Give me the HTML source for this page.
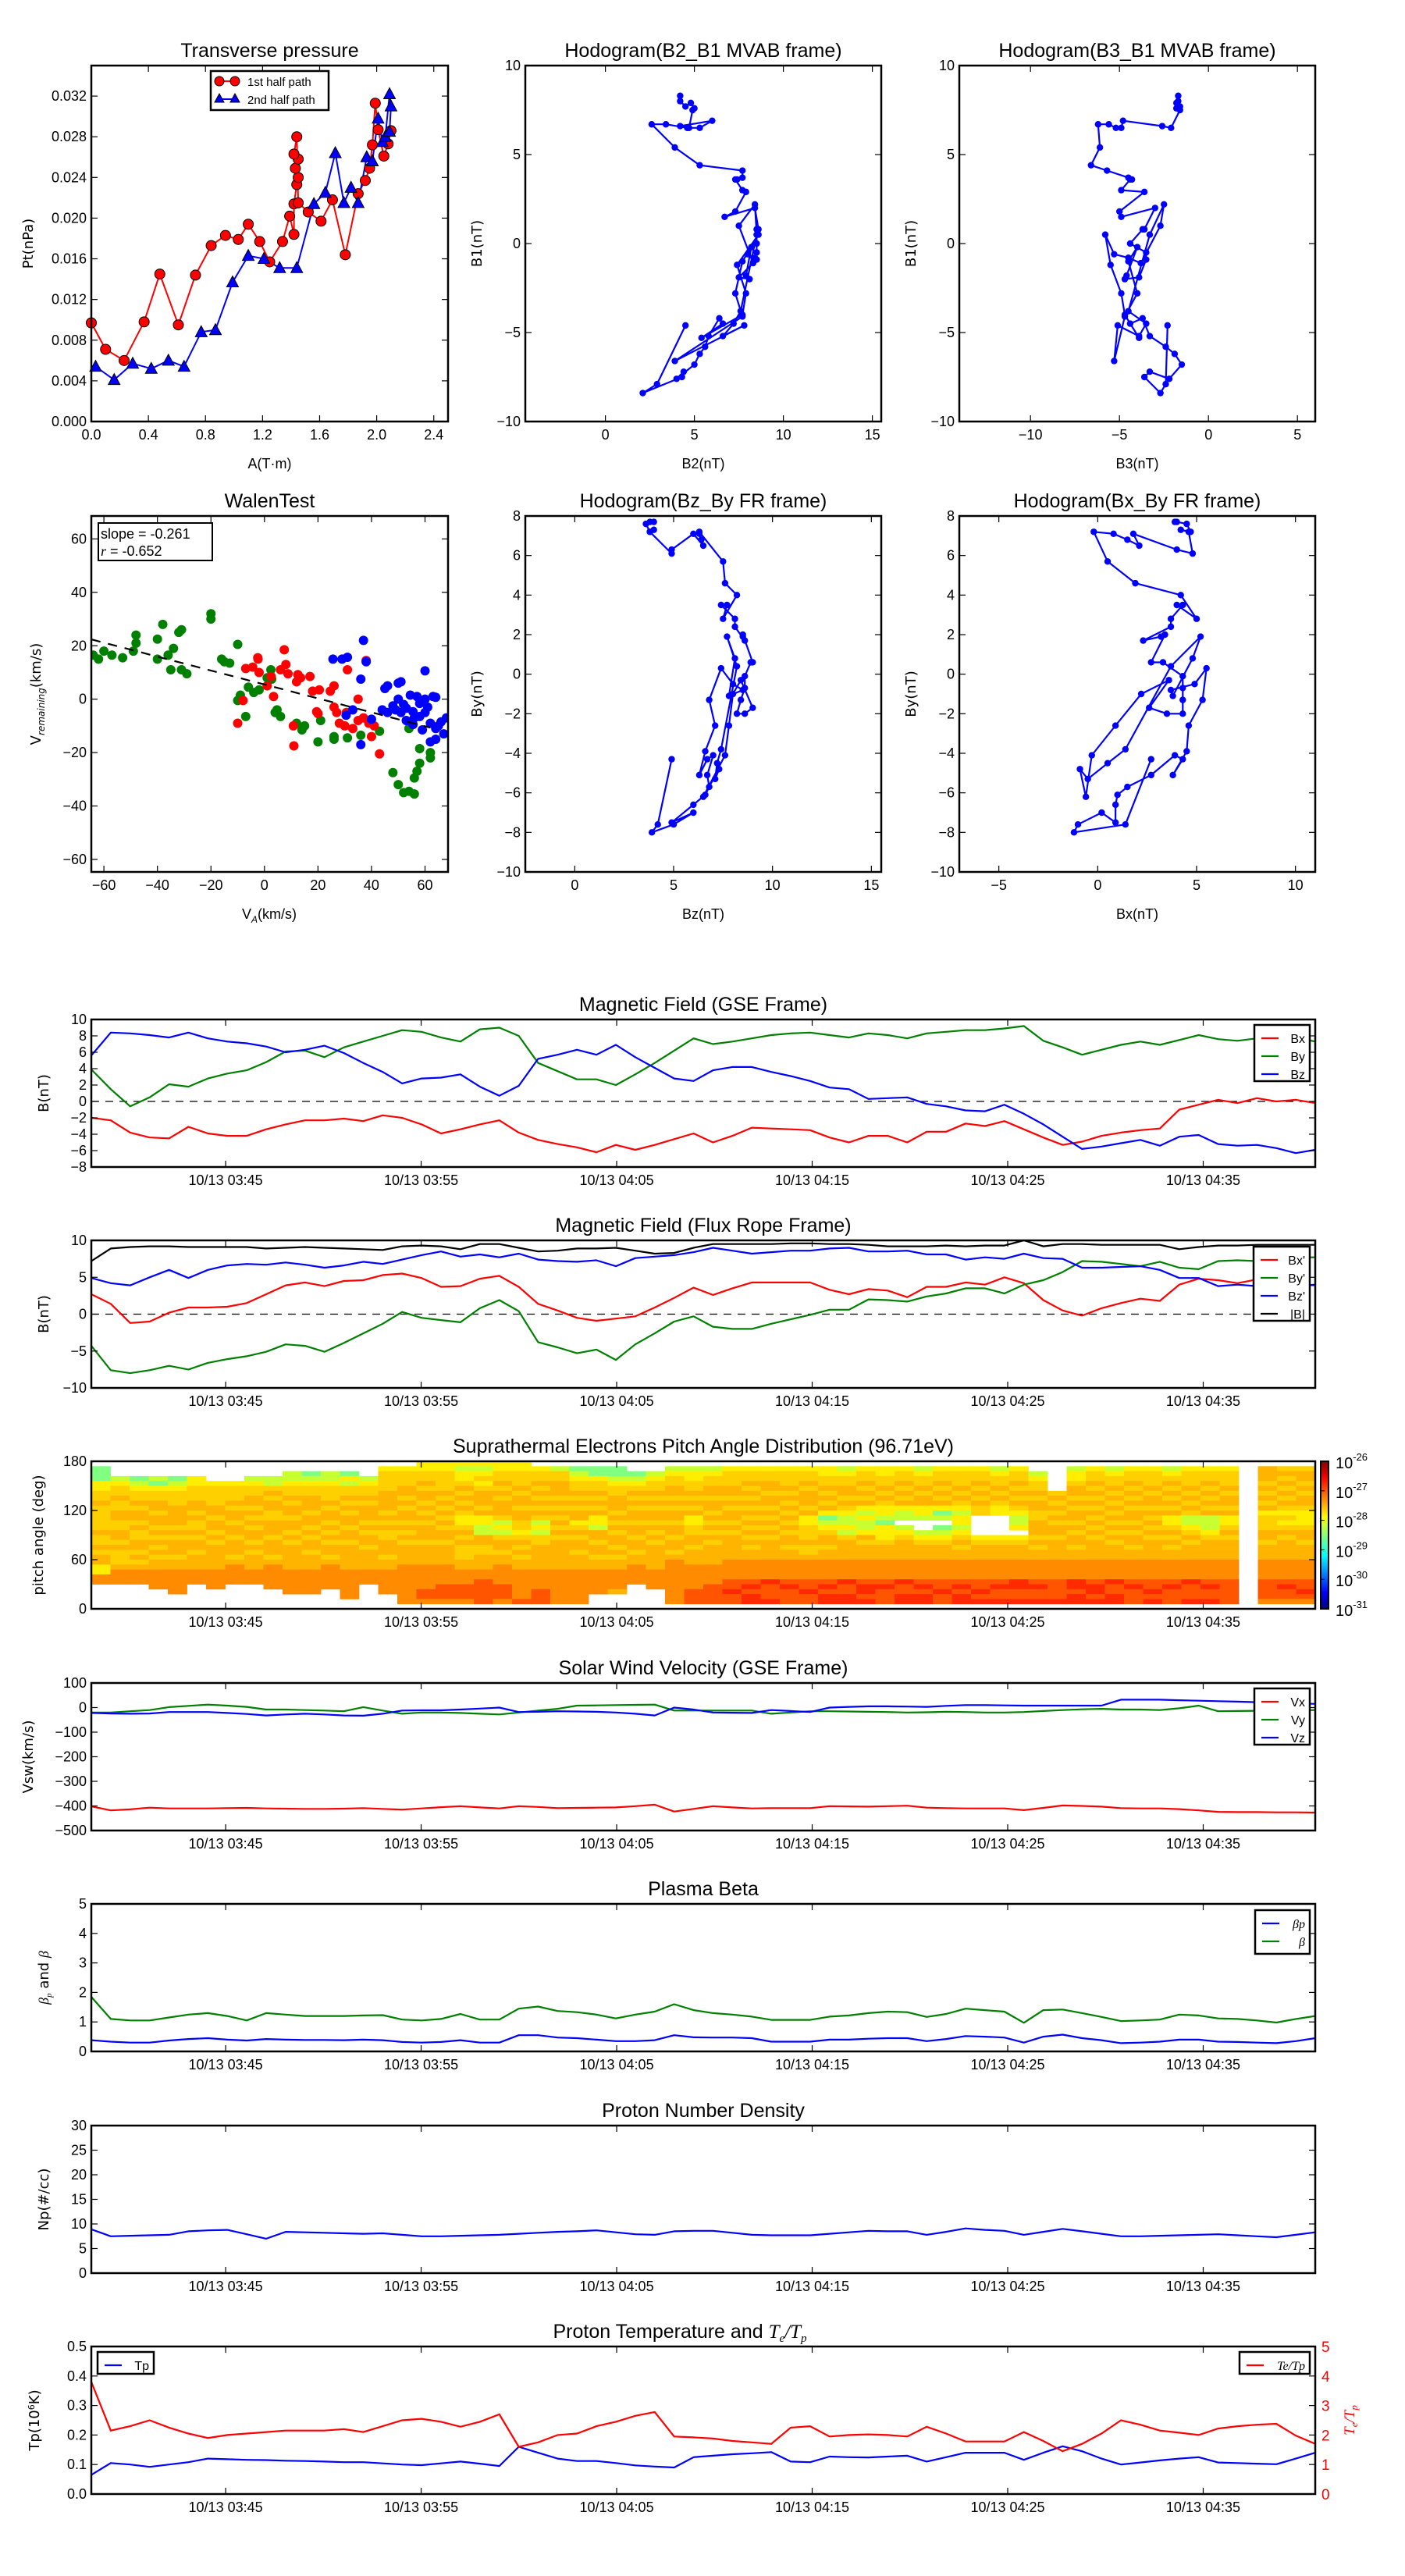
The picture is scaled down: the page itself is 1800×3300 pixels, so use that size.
<!DOCTYPE html>
<html><head><meta charset="utf-8"><title>Flux rope analysis</title>
<style>
html,body{margin:0;padding:0;background:#fff;}
svg{display:block;font-family:"Liberation Sans","DejaVu Sans",sans-serif;}
</style></head>
<body>
<svg id="root" width="1800" height="3300" viewBox="0 0 1800 3300" xmlns="http://www.w3.org/2000/svg">
<defs>
<linearGradient id="jet" x1="0" y1="1" x2="0" y2="0">
<stop offset="0" stop-color="#00007f"/><stop offset="0.11" stop-color="#0000ff"/><stop offset="0.36" stop-color="#00ffff"/><stop offset="0.62" stop-color="#ffff00"/><stop offset="0.89" stop-color="#ff0000"/><stop offset="1" stop-color="#7f0000"/>
</linearGradient>
</defs>
</svg>
<script>
// ---------- data ----------
const gseBx=[-2.0,-2.3,-3.8,-4.4,-4.5,-3.1,-3.9,-4.2,-4.2,-3.4,-2.8,-2.3,-2.3,-2.1,-2.4,-1.7,-2.0,-2.8,-3.9,-3.4,-2.8,-2.3,-3.8,-4.7,-5.2,-5.6,-6.2,-5.3,-5.9,-5.3,-4.6,-3.9,-5.0,-4.2,-3.2,-3.3,-3.4,-3.5,-4.4,-5.0,-4.2,-4.2,-5.0,-3.7,-3.7,-2.7,-3.0,-2.4,-3.4,-4.4,-5.3,-4.9,-4.2,-3.8,-3.5,-3.3,-1.0,-0.4,0.2,-0.2,0.4,0.0,0.2,-0.2];
const gseBy=[3.9,1.5,-0.6,0.5,2.1,1.8,2.8,3.4,3.8,4.8,6.1,6.2,5.4,6.6,7.3,8.0,8.7,8.5,7.8,7.3,8.8,9.0,8.0,4.7,3.7,2.7,2.7,2.0,3.3,4.7,6.2,7.7,7.0,7.3,7.7,8.1,8.3,8.4,8.1,7.8,8.3,8.1,7.7,8.3,8.5,8.7,8.7,8.9,9.2,7.4,6.6,5.7,6.3,6.9,7.3,6.9,7.5,8.1,7.6,7.4,7.7,8.0,7.8,7.3];
const gseBz=[5.6,8.4,8.3,8.1,7.8,8.4,7.7,7.3,7.1,6.7,6.0,6.3,6.8,5.9,4.7,3.6,2.2,2.8,2.9,3.3,1.8,0.7,1.9,5.2,5.7,6.3,5.7,6.9,5.4,4.1,2.8,2.5,3.8,4.2,4.2,3.6,3.1,2.5,1.7,1.5,0.3,0.4,0.5,-0.3,-0.6,-1.1,-1.2,-0.4,-1.5,-2.8,-4.3,-5.8,-5.5,-5.1,-4.7,-5.4,-4.3,-4.1,-5.2,-5.4,-5.3,-5.7,-6.3,-5.9];
const frBx=[2.7,1.4,-1.2,-1.0,0.2,0.9,0.9,1.0,1.5,2.7,3.9,4.3,3.8,4.5,4.6,5.3,5.5,4.9,3.7,3.8,4.8,5.2,3.7,1.4,0.5,-0.5,-0.9,-0.6,-0.3,0.9,2.2,3.6,2.6,3.5,4.3,4.3,4.3,4.3,3.3,2.7,3.4,3.2,2.3,3.7,3.7,4.3,4.0,5.0,4.2,1.9,0.5,-0.2,0.8,1.5,2.1,1.8,4.0,4.8,4.6,4.2,4.7,4.5,4.0,3.9];
const frBy=[-4.3,-7.6,-8.0,-7.6,-7.0,-7.5,-6.6,-6.1,-5.7,-5.1,-4.1,-4.3,-5.1,-3.9,-2.6,-1.3,0.3,-0.5,-0.8,-1.1,0.8,1.9,0.4,-3.8,-4.5,-5.3,-4.8,-6.2,-4.1,-2.6,-1.0,-0.3,-1.7,-2.0,-2.0,-1.3,-0.7,-0.1,0.6,0.6,2.0,1.9,1.7,2.4,2.8,3.5,3.5,2.8,4.0,4.6,5.7,7.2,7.1,6.8,6.5,7.1,6.3,6.1,7.2,7.3,7.2,7.6,7.7,7.7];
const frBz=[4.9,4.2,3.9,5.0,6.0,4.9,6.0,6.6,6.8,6.7,7.0,6.7,6.3,6.6,7.1,6.8,7.4,8.0,8.5,7.8,8.1,7.7,8.2,7.4,7.2,7.1,7.3,6.5,7.6,7.8,8.0,8.4,9.0,8.6,8.2,8.4,8.6,8.6,8.9,9.0,8.5,8.5,8.6,8.1,8.1,7.4,7.7,7.5,8.2,7.6,7.5,6.3,6.3,6.4,6.5,6.0,4.9,4.9,3.8,4.0,3.8,3.6,3.8,4.0];
const frBmag=[7.2,8.9,9.1,9.2,9.2,9.1,9.1,9.1,9.1,8.9,9.0,9.1,9.0,8.9,8.8,8.7,9.2,9.3,9.2,8.8,9.5,9.5,9.0,8.5,8.6,8.9,8.9,9.0,8.6,8.2,8.3,9.0,9.5,9.5,9.5,9.5,9.6,9.6,9.5,9.5,9.4,9.2,9.2,9.2,9.3,9.2,9.3,9.3,10.0,9.2,9.5,9.5,9.4,9.4,9.4,9.4,8.8,9.1,9.3,9.3,9.4,9.4,9.4,9.4];
const vx=[-402,-418,-414,-407,-410,-410,-410,-409,-408,-410,-411,-412,-412,-411,-409,-412,-415,-410,-405,-401,-406,-410,-401,-404,-409,-408,-407,-406,-401,-395,-423,-412,-401,-406,-410,-409,-409,-409,-401,-402,-403,-401,-399,-407,-409,-410,-410,-410,-417,-408,-398,-400,-403,-409,-410,-410,-413,-418,-424,-425,-425,-426,-426,-427];
const vy=[-20,-20,-15,-10,2,7,12,8,3,-8,-8,-10,-12,-15,2,-12,-25,-20,-20,-22,-25,-28,-20,-12,-5,8,9,10,11,12,-12,-12,-12,-12,-12,-25,-20,-15,-15,-16,-17,-18,-20,-19,-17,-18,-20,-20,-18,-14,-10,-7,-5,-8,-8,-10,-3,8,-15,-14,-13,-12,-11,-10];
const vz=[-22,-24,-25,-24,-18,-18,-18,-22,-26,-32,-28,-25,-28,-32,-33,-25,-12,-11,-11,-8,-4,0,-18,-17,-15,-16,-17,-20,-25,-32,0,-8,-20,-21,-22,-10,-14,-18,0,3,5,5,4,3,7,10,10,9,8,8,8,8,8,32,32,32,30,28,26,24,22,20,18,15];
const betaP=[0.38,0.33,0.3,0.3,0.37,0.42,0.45,0.4,0.37,0.42,0.4,0.39,0.39,0.38,0.4,0.38,0.32,0.3,0.32,0.38,0.3,0.3,0.55,0.55,0.47,0.45,0.4,0.35,0.35,0.38,0.55,0.48,0.47,0.47,0.45,0.33,0.33,0.33,0.4,0.4,0.43,0.45,0.45,0.35,0.42,0.52,0.5,0.47,0.3,0.5,0.57,0.45,0.38,0.28,0.3,0.33,0.4,0.4,0.33,0.32,0.3,0.28,0.35,0.45];
const betaT=[1.85,1.1,1.05,1.05,1.15,1.25,1.3,1.2,1.05,1.3,1.25,1.2,1.2,1.2,1.22,1.23,1.08,1.05,1.1,1.27,1.08,1.08,1.45,1.52,1.37,1.33,1.25,1.12,1.25,1.35,1.6,1.4,1.3,1.25,1.18,1.07,1.07,1.07,1.18,1.22,1.3,1.35,1.33,1.17,1.27,1.45,1.4,1.35,0.97,1.4,1.42,1.3,1.17,1.03,1.05,1.08,1.25,1.22,1.12,1.1,1.05,0.98,1.1,1.2];
const np=[8.9,7.5,7.6,7.7,7.8,8.5,8.7,8.8,7.9,7.0,8.4,8.3,8.2,8.1,8.0,8.1,7.8,7.5,7.5,7.6,7.7,7.8,8.0,8.2,8.4,8.5,8.7,8.3,7.9,7.8,8.5,8.6,8.6,8.2,7.8,7.7,7.7,7.7,8.0,8.3,8.6,8.5,8.5,7.8,8.4,9.1,8.8,8.6,7.8,8.4,9.0,8.5,8.0,7.5,7.5,7.6,7.7,7.8,7.9,7.7,7.5,7.3,7.8,8.3];
const tp=[0.065,0.105,0.1,0.092,0.1,0.108,0.12,0.118,0.116,0.115,0.113,0.112,0.11,0.108,0.108,0.104,0.1,0.098,0.104,0.11,0.103,0.095,0.16,0.14,0.12,0.112,0.112,0.105,0.097,0.093,0.09,0.125,0.13,0.135,0.138,0.142,0.11,0.108,0.127,0.125,0.124,0.127,0.13,0.11,0.125,0.14,0.14,0.14,0.116,0.14,0.162,0.145,0.12,0.1,0.107,0.114,0.12,0.125,0.107,0.105,0.103,0.101,0.12,0.14];
const teTp=[3.8,2.15,2.3,2.5,2.25,2.05,1.9,2.0,2.05,2.1,2.15,2.15,2.15,2.2,2.1,2.3,2.5,2.55,2.45,2.28,2.45,2.7,1.6,1.75,2.0,2.05,2.3,2.45,2.65,2.78,1.95,1.92,1.88,1.8,1.75,1.7,2.25,2.3,1.95,2.0,2.02,2.0,1.95,2.28,2.05,1.78,1.78,1.78,2.1,1.8,1.45,1.7,2.05,2.5,2.35,2.15,2.08,2.0,2.22,2.3,2.35,2.38,1.98,1.7];
const mvaB1=[-4.6,-7.9,-8.4,-7.5,-7.2,-7.6,-6.8,-6.2,-5.8,-5.2,-4.2,-4.5,-5.3,-4.0,-2.8,-1.2,0.5,-0.6,-0.8,-1.1,1.0,2.2,0.5,-3.8,-4.5,-5.2,-4.6,-6.6,-4.1,-2.8,-1.0,-0.2,-1.8,-2.0,-1.9,-0.9,-0.5,0.0,0.8,0.8,2.0,1.5,1.8,2.9,3.0,3.6,3.6,3.7,4.1,4.4,5.4,6.7,6.7,6.5,6.5,6.9,6.6,6.5,7.5,7.6,7.9,7.7,8.0,8.3];
const mvaB2=[4.5,2.9,2.1,4.3,4.4,4.0,5.0,5.3,5.6,5.8,6.4,6.6,5.4,7.7,7.9,7.4,8.6,8.0,8.4,8.3,7.5,8.4,8.5,7.6,7.2,6.6,7.8,3.9,7.7,7.3,7.7,8.2,7.9,8.1,7.5,8.5,8.5,8.5,8.5,8.6,8.4,6.7,7.3,7.9,7.7,7.3,7.4,7.7,7.7,5.3,3.9,2.6,3.4,4.6,5.3,6.0,4.2,4.7,4.9,5.0,4.8,4.5,4.2,4.2];
const mvaB3=[-2.3,-2.4,-2.7,-3.6,-3.3,-2.2,-1.5,-1.9,-2.4,-3.3,-3.7,-4.4,-3.9,-4.7,-4.9,-5.5,-5.8,-5.3,-4.5,-3.8,-2.7,-2.5,-3.3,-4.5,-3.5,-3.9,-5.1,-5.3,-4.7,-4.0,-4.5,-4.0,-4.6,-4.7,-3.9,-3.5,-3.5,-4.4,-3.7,-3.6,-3.0,-4.9,-5.0,-3.6,-4.9,-4.4,-4.3,-4.5,-5.7,-6.6,-6.1,-6.2,-5.6,-5.2,-4.9,-4.8,-2.6,-2.1,-1.6,-1.8,-1.8,-1.6,-1.7,-1.7];
const ptA1=[0.0,0.10,0.23,0.37,0.48,0.61,0.73,0.84,0.94,1.03,1.10,1.18,1.25,1.34,1.39,1.42,1.42,1.44,1.45,1.43,1.45,1.42,1.44,1.45,1.52,1.61,1.69,1.78,1.87,1.92,1.95,1.97,1.99,2.01,2.05,2.08,2.10];
const ptP1=[0.0097,0.0071,0.0060,0.0098,0.0145,0.0095,0.0144,0.0173,0.0183,0.0179,0.0194,0.0177,0.0157,0.0177,0.0202,0.0184,0.0214,0.0233,0.0240,0.0249,0.0258,0.0263,0.0280,0.0215,0.0206,0.0197,0.0218,0.0164,0.0224,0.0237,0.0249,0.0272,0.0313,0.0287,0.0261,0.0273,0.0286];
const ptA2=[0.03,0.16,0.29,0.42,0.54,0.65,0.77,0.87,0.99,1.10,1.21,1.32,1.44,1.56,1.64,1.71,1.77,1.82,1.87,1.93,1.97,2.01,2.04,2.06,2.09,2.10,2.09];
const ptP2=[0.0054,0.0041,0.0057,0.0052,0.0060,0.0054,0.0088,0.0090,0.0137,0.0163,0.0160,0.0151,0.0151,0.0214,0.0225,0.0264,0.0215,0.0230,0.0215,0.0260,0.0256,0.0298,0.0275,0.0280,0.0322,0.0310,0.0285];
const walenGreenX=[-64,-62,-60,-57,-53,-49,-48,-48,-40,-38,-40,-36,-34,-35,-32,-31,-31,-29,-20,-20,-10,-16,-15,-13,-10,-9,-7,-6,-4,-2,1,2.4,2.7,4.7,6,4,15,12,14,21,20,26,26,31,36,43,48,50,52,54,56,56,57,58,58,62,62,54];
const walenGreenY=[16.5,15,18,16.5,15.5,18,21,24,22.5,28,15,16.5,19,11,25,26,11,9.5,32,30,20.5,15,14,13.5,-0.5,1.5,-6.5,4.5,2.5,3.5,8,11,7.5,-4,-6.5,-5,-10,-9,-11.5,-8,-16,-14,-15,-14.5,-13.5,-12,-27.5,-32,-35,-34.5,-35.5,-29.5,-27,-24,-18.5,-22,-20,-11];
const walenRedX=[-10,-8,-7,-4.4,-2.4,1,3.4,6,7.4,8,8.8,10.8,12,12.5,13.5,17,18,19.5,20,20.5,24.6,26,26,28,30,30.6,33,35,37,38,39,40,41,11,-2,2.5,-2.5,27,31,35,43];
const walenRedY=[-9,-0.5,11.5,12,15,5,1,11,18.5,13,9.5,-10,6.5,9.2,8,8.5,3,-4.7,-5.4,3.5,3,5,-3,-9,-10,-5,-11,0,-7,14.5,-9,-14,-10,-17.5,10,8.5,15.5,-5,11,-8,-20.5];
const walenBlueX=[25.6,29,31,37,38,36,36,33,40,45,46,51,50,60,48,49,51,53,55.5,57,58,60,64,59,62,64,66,67,62,64,55.5,54.5,50,52,56,58,60,46,44,53,68,61,30.5,65,63];
const walenBlueY=[15,15,15.7,22,14,7.5,-17,-4,-7.5,4,5,6.5,6,10.6,-2.5,-4,-5,-3.4,-4.7,1,-1.6,0,0.7,-11.5,-9,-11,-8.5,-13,-16,-15,-9.5,1.5,0,-2,-7,-6.5,-5,-5,-4,-8,-7,-3,-6,-10,1];
const walenSlope=-0.261, walenIntercept=5.5, walenR=-0.652;
const padCols=[
"011133445444445445455336600000","000234454455445545444566600000","000123445455454455454566600000","000213445545545454545566660000",
"000123444555545455545566666000","000334445545445455455566600000","000034444554554545555566660000","000034445455455455545666600000",
"000234455454545545455566600000","000224545544555455545666660000","002234454554554545555566666000","001234455545545455455566666000",
"002234445455454545545666660000","001324454545545545555566666600","000234454555454554555566600000","034444555545454455545566666000",
"034445545455454545555666666660","334454554545455545555666667760","334444545454545545555666677760","323345454543345454445566677760",
"323434555453322554455566777770","334454545554232455455666677760","334445455455443454545566666670","034454545454232445555566667770",
"024455545454545455555566666660","012344545455345455455566666660","011344545453325545545566666000","011234455545454554545566665000",
"001234545455455455455666600000","002344545455454545555566660000","023445545455455455456666666660","023344545453344554555666667770",
"023445545545454545555666677770","034445545455454555556666778770","034454545454545454556666787880","034455455454545455556666877780",
"034445454545454554556666787770","034454555453344454456666778770","033445454531234554556666787880","023445545432232455556666877880",
"034454545323223545556666788780","033445454332133345556666787770","034454545322023455556666877880","023445455332002345556666787880",
"034454545312012345556666778770","034445454323323454556666787880","034454545440000345556666778780","023445454330000345556666787780",
"034454545432230345556666887780","002344545544555454556666787780","000000454545455455556666777780","023345545455454554556666887880",
"034454545454545455556666788780","023445454545454545556666877880","034454545455454554556666787770","034445455454545455556666778780",
"023454545453345454556666787770","034445454542234545556666877780","034454545452223455556666787780","034445455453345455556666777770",
"000000000000000000000000000000","055545454534445545556666777760","045454545434345455556666787760","045545455433345545556666778760"];
const padLevelColors=["none","#80ff80","#c8ff30","#ffee00","#ffd000","#ffb400","#ff8c00","#ff5500","#ff2a00"];
const timeTickLabels=["10/13 03:45","10/13 03:55","10/13 04:05","10/13 04:15","10/13 04:25","10/13 04:35"];
const timeTickMin=[6.87,16.87,26.87,36.87,46.87,56.87];
const cbarExps=["-26","-27","-28","-29","-30","-31"];

// ---------- helpers ----------
const NS="http://www.w3.org/2000/svg";
const root=document.getElementById('root');
function mk(tag,attrs,parent){const e=document.createElementNS(NS,tag);for(const k in attrs)e.setAttribute(k,attrs[k]);(parent||root).appendChild(e);return e;}
function lin(d0,d1,r0,r1){return v=>r0+(v-d0)*(r1-r0)/(d1-d0);}
function txt(str,x,y,size,anchor,parent,extra){const t=mk('text',Object.assign({x:x,y:y,'font-size':size,'text-anchor':anchor||'middle',fill:'#000'},extra||{}),parent);t.textContent=str;return t;}
function pathD(xs,ys,sx,sy){return xs.map((v,i)=>(i?'L':'M')+sx(v).toFixed(1)+','+sy(ys[i]).toFixed(1)).join('');}

function makeAxes(name,x0,y0,x1,y1,xd,yd){
  const g=mk('g',{});
  
  
  return {g:g,x0:x0,y0:y0,x1:x1,y1:y1,sx:lin(xd[0],xd[1],x0,x1),sy:lin(yd[0],yd[1],y1,y0)};
}
function frame(a){
  const r=mk('rect',{x:a.x0,y:a.y0,width:a.x1-a.x0,height:a.y1-a.y0,fill:'none',stroke:'#000','stroke-width':2.5},a.g);
  
  
}
function yTicks(a,vals,labels,opt){
  opt=opt||{};
  vals.forEach((v,i)=>{
    const y=a.sy(v);
    const t1=mk('line',{x1:a.x0,x2:a.x0+8,y1:y,y2:y,stroke:'#000','stroke-width':1.2},a.g);
    
    
    if(!opt.noRight){const t2=mk('line',{x1:a.x1-8,x2:a.x1,y1:y,y2:y,stroke:'#000','stroke-width':1.2},a.g);
    
    }
    const lb=txt(labels[i],a.x0-6,y+6,18,'end',a.g);
    
    
  });
}
function xTicks(a,vals,labels){
  vals.forEach((v,i)=>{
    const x=a.sx(v);
    const t1=mk('line',{x1:x,x2:x,y1:a.y1,y2:a.y1-8,stroke:'#000','stroke-width':1.2},a.g);
    
    
    const t2=mk('line',{x1:x,x2:x,y1:a.y0,y2:a.y0+8,stroke:'#000','stroke-width':1.2},a.g);
    
    
    const lb=txt(labels[i],x,a.y1+23,18,'middle',a.g);
    
    
  });
}
function title(a,str){
  const t=txt(str,(a.x0+a.x1)/2,a.y0-11,25,'middle',a.g);
  
  
  return t;
}
function ylabel(a,str,x){
  const yc=(a.y0+a.y1)/2;
  const t=txt(str,x,yc,18,'middle',a.g,{transform:'rotate(-90 '+x+' '+yc+')','font-family':'DejaVu Sans, sans-serif'});
  
  
  return t;
}
function xlabel(a,str){
  const t=txt(str,(a.x0+a.x1)/2,a.y1+60,18,'middle',a.g);
  
  
  return t;
}
function series(a,xs,ys,color,name,w){
  const p=mk('path',{d:pathD(xs,ys,a.sx,a.sy),fill:'none',stroke:color,'stroke-width':w||2.2,'stroke-linejoin':'round'},a.g);
  
  
  return p;
}
function legend(a,x,y,w,entries,h){
  const lg=mk('g',{},a.g);
  
  
  const r=mk('rect',{x:x,y:y,width:w,height:h||entries.length*23+12,fill:'#fff',stroke:'#000','stroke-width':2.5},lg);
  
  
  entries.forEach((e,i)=>{
    const yy=y+17+i*23;
    const l=mk('line',{x1:x+9,x2:x+31,y1:yy,y2:yy,stroke:e[1],'stroke-width':2.2},lg);
    
    
    const t=txt(e[0],x+w-6,yy+6,16,'end',lg,e[2]?{'font-style':'italic','font-family':'Liberation Serif, serif'}:{});
    
    
  });
}
const N=64, TMAX=62.6;
const tIdx=i=>i*TMAX/(N-1);
const times=Array.from({length:N},(_,i)=>tIdx(i));

// ---------- row 1: transverse pressure ----------
(function(){
  const a=makeAxes('transverse-pressure-chart',117,84,574,540,[0,2.5],[0,0.035]);
  title(a,'Transverse pressure');
  const p1=series(a,ptA1,ptP1,'#ff0000','first-half-path-line',2);
  const p2=series(a,ptA2,ptP2,'#0000ff','second-half-path-line',2);
  ptA1.forEach((v,i)=>{const c=mk('circle',{cx:a.sx(v),cy:a.sy(ptP1[i]),r:6.5,fill:'#ff0000',stroke:'#000','stroke-width':1},a.g);
    
    });
  ptA2.forEach((v,i)=>{const x=a.sx(v),y=a.sy(ptP2[i]);const t=mk('polygon',{points:`${x},${y-8} ${x-7.5},${y+6} ${x+7.5},${y+6}`,fill:'#0000ff',stroke:'#000','stroke-width':1},a.g);
    
    });
  yTicks(a,[0,0.004,0.008,0.012,0.016,0.020,0.024,0.028,0.032],['0.000','0.004','0.008','0.012','0.016','0.020','0.024','0.028','0.032']);
  xTicks(a,[0,0.4,0.8,1.2,1.6,2.0,2.4],['0.0','0.4','0.8','1.2','1.6','2.0','2.4']);
  ylabel(a,'Pt(nPa)',42);
  xlabel(a,'A(T·m)');
  const lg=mk('g',{},a.g);
  
  
  mk('rect',{x:270,y:91,width:151,height:50,fill:'#fff',stroke:'#000','stroke-width':2.5},lg);
  mk('line',{x1:281,x2:301,y1:104,y2:104,stroke:'#f00','stroke-width':2},lg);
  mk('circle',{cx:281,cy:104,r:6,fill:'#f00',stroke:'#000'},lg);mk('circle',{cx:301,cy:104,r:6,fill:'#f00',stroke:'#000'},lg);
  mk('line',{x1:281,x2:301,y1:127,y2:127,stroke:'#00f','stroke-width':2},lg);
  mk('polygon',{points:'281,120 275,131 287,131',fill:'#00f',stroke:'#000'},lg);mk('polygon',{points:'301,120 295,131 307,131',fill:'#00f',stroke:'#000'},lg);
  const e1=txt('1st half path',317,110,15,'start',lg);
  
  
  const e2=txt('2nd half path',317,133,15,'start',lg);
  
  
  frame(a);
})();

// ---------- hodograms ----------
function hodogram(name,x0,y0,x1,y1,xd,yd,xs,ys,ttl,xl,yl,xt,yt,ylx){
  const a=makeAxes(name,x0,y0,x1,y1,xd,yd);
  title(a,ttl);
  series(a,xs,ys,'#0000ff','hodogram-path',2.2);
  xs.forEach((v,i)=>{const c=mk('circle',{cx:a.sx(v),cy:a.sy(ys[i]),r:4.2,fill:'#0000ff'},a.g);
    
    });
  yTicks(a,yt,yt.map(v=>v<0?'\u2212'+(-v):String(v)));
  xTicks(a,xt,xt.map(v=>v<0?'\u2212'+(-v):String(v)));
  ylabel(a,yl,ylx);
  xlabel(a,xl);
  frame(a);
}
hodogram('hodogram-b2-b1',673,84,1129,540,[-4.5,15.5],[-10,10],mvaB2,mvaB1,'Hodogram(B2_B1 MVAB frame)','B2(nT)','B1(nT)',[0,5,10,15],[-10,-5,0,5,10],617);
hodogram('hodogram-b3-b1',1229,84,1685,540,[-14,6],[-10,10],mvaB3,mvaB1,'Hodogram(B3_B1 MVAB frame)','B3(nT)','B1(nT)',[-10,-5,0,5],[-10,-5,0,5,10],1173);
hodogram('hodogram-bz-by',673,661,1129,1117,[-2.5,15.5],[-10,8],frBz,frBy,'Hodogram(Bz_By FR frame)','Bz(nT)','By(nT)',[0,5,10,15],[-10,-8,-6,-4,-2,0,2,4,6,8],617);
hodogram('hodogram-bx-by',1229,661,1685,1117,[-7,11],[-10,8],frBx,frBy,'Hodogram(Bx_By FR frame)','Bx(nT)','By(nT)',[-5,0,5,10],[-10,-8,-6,-4,-2,0,2,4,6,8],1173);

// ---------- Walen test ----------
(function(){
  const a=makeAxes('walen-test-chart',117,661,574,1117,[-64.7,68.6],[-64.7,68.6]);
  title(a,'WalenTest');
  const clip=mk('clipPath',{id:'walclip'},a.g);mk('rect',{x:117,y:661,width:457,height:456},clip);
  const dots=mk('g',{'clip-path':'url(#walclip)'},a.g);
  
  
  [[walenGreenX,walenGreenY,'#008000','walen-point-green'],[walenRedX,walenRedY,'#ff0000','walen-point-red'],[walenBlueX,walenBlueY,'#0000ff','walen-point-blue']].forEach(s=>{
    s[0].forEach((v,i)=>{const c=mk('circle',{cx:a.sx(v),cy:a.sy(s[1][i]),r:6,fill:s[2]},dots);
      
      });
  });
  const fx=[-64.7,62];
  const fit=mk('path',{d:pathD(fx,fx.map(v=>walenIntercept+walenSlope*v),a.sx,a.sy),stroke:'#000','stroke-width':2.2,'stroke-dasharray':'12,10',fill:'none'},a.g);
  
  
  yTicks(a,[-60,-40,-20,0,20,40,60],['\u221260','\u221240','\u221220','0','20','40','60']);
  xTicks(a,[-60,-40,-20,0,20,40,60],['\u221260','\u221240','\u221220','0','20','40','60']);
  const yl=mk('text',{x:52,y:889,'font-size':18,'text-anchor':'middle',transform:'rotate(-90 52 889)','font-family':'DejaVu Sans, sans-serif'},a.g);
  
  
  yl.innerHTML='V<tspan font-size="12" font-style="italic" dy="5">remaining</tspan><tspan dy="-5">(km/s)</tspan>';
  const xl=mk('text',{x:345,y:1177,'font-size':18,'text-anchor':'middle'},a.g);
  
  
  xl.innerHTML='V<tspan font-size="12" font-style="italic" dy="5">A</tspan><tspan dy="-5">(km/s)</tspan>';
  const box=mk('g',{},a.g);
  
  
  mk('rect',{x:126,y:670,width:146,height:48,fill:'#fff',stroke:'#000','stroke-width':2},box);
  txt('slope = '+walenSlope.toFixed(3),129,690,18,'start',box);
  const r=txt('',129,712,18,'start',box);r.innerHTML='<tspan font-style="italic" font-family="Liberation Serif, serif">r</tspan> = '+walenR.toFixed(3);
  frame(a);
})();

// ---------- time series panels ----------
const TX0=117,TX1=1685;
function timePanel(name,top,yd,ttl){
  const a=makeAxes(name,TX0,top,TX1,top+189,[0,TMAX],yd);
  title(a,ttl);
  return a;
}
function finishTime(a){xTicks(a,timeTickMin,timeTickLabels);frame(a);}
function zeroLine(a){const z=mk('line',{x1:a.x0,x2:a.x1,y1:a.sy(0),y2:a.sy(0),stroke:'#000','stroke-width':1.3,'stroke-dasharray':'10,8'},a.g);
  
  }

// GSE
(function(){
  const a=timePanel('gse-field-chart',1306,[-8,10],'Magnetic Field (GSE Frame)');
  zeroLine(a);
  series(a,times,gseBx,'#ff0000','series-bx');
  series(a,times,gseBy,'#008000','series-by');
  series(a,times,gseBz,'#0000ff','series-bz');
  yTicks(a,[-8,-6,-4,-2,0,2,4,6,8,10],['\u22128','\u22126','\u22124','\u22122','0','2','4','6','8','10']);
  ylabel(a,'B(nT)',62);
  legend(a,1607,1313,71,[['Bx','#ff0000'],['By','#008000'],['Bz','#0000ff']],72);
  finishTime(a);
})();
// FR
(function(){
  const a=timePanel('flux-rope-field-chart',1589,[-10,10],'Magnetic Field (Flux Rope Frame)');
  zeroLine(a);
  series(a,times,frBx,'#ff0000','series-bx-prime');
  series(a,times,frBy,'#008000','series-by-prime');
  series(a,times,frBz,'#0000ff','series-bz-prime');
  series(a,times,frBmag,'#000000','series-b-magnitude');
  yTicks(a,[-10,-5,0,5,10],['\u221210','\u22125','0','5','10']);
  ylabel(a,'B(nT)',62);
  legend(a,1606,1597,72,[["Bx'",'#ff0000'],["By'",'#008000'],["Bz'",'#0000ff'],['|B|','#000000']],95);
  finishTime(a);
})();
// PAD
(function(){
  const a=timePanel('pitch-angle-heatmap',1872,[0,180],'Suprathermal Electrons Pitch Angle Distribution (96.71eV)');
  const cells=mk('g',{},a.g);
  
  
  const cw=TMAX/padCols.length;
  padCols.forEach((col,i)=>{
    for(let r=0;r<30;r++){
      const lv=+col[r]||0; if(!lv)continue;
      const x=a.sx(i*cw),x2=a.sx((i+1)*cw),y=a.sy(180-r*6),y2=a.sy(180-(r+1)*6);
      const c=mk('rect',{x:x.toFixed(1),y:y.toFixed(1),width:(x2-x+0.4).toFixed(1),height:(y2-y+0.4).toFixed(1),fill:padLevelColors[lv]},cells);
      
      
    }
  });
  yTicks(a,[0,60,120,180],['0','60','120','180']);
  ylabel(a,'pitch angle (deg)',55);
  finishTime(a);
  const cb=mk('g',{},root);
  
  
  mk('rect',{x:1692,y:1872,width:10,height:189,fill:'url(#jet)',stroke:'#000','stroke-width':2},cb);
  cbarExps.forEach((e,i)=>{
    const y=1872+i*189/5;
    mk('line',{x1:1692,x2:1697,y1:y,y2:y,stroke:'#000'},cb);
    const t=mk('text',{x:1711,y:y+9,'font-size':20},cb);
    
    
    t.innerHTML='10<tspan font-size="13" dy="-10">'+e+'</tspan>';
  });
})();
// Solar wind
(function(){
  const a=timePanel('solar-wind-velocity-chart',2156,[-500,100],'Solar Wind Velocity (GSE Frame)');
  series(a,times,vx,'#ff0000','series-vx');
  series(a,times,vy,'#008000','series-vy');
  series(a,times,vz,'#0000ff','series-vz');
  yTicks(a,[-500,-400,-300,-200,-100,0,100],['\u2212500','\u2212400','\u2212300','\u2212200','\u2212100','0','100']);
  ylabel(a,'Vsw(km/s)',42);
  legend(a,1607,2163,71,[['Vx','#ff0000'],['Vy','#008000'],['Vz','#0000ff']],72);
  finishTime(a);
})();
// Beta
(function(){
  const a=timePanel('plasma-beta-chart',2439,[0,5],'Plasma Beta');
  series(a,times,betaP,'#0000ff','series-beta-p');
  series(a,times,betaT,'#008000','series-beta');
  yTicks(a,[0,1,2,3,4,5],['0','1','2','3','4','5']);
  const yl=ylabel(a,'',62);
  yl.innerHTML='<tspan font-style="italic" font-family="Liberation Serif, serif">β<tspan font-size="11" dy="4">p</tspan></tspan><tspan dy="-4"> and </tspan><tspan font-style="italic" font-family="Liberation Serif, serif">β</tspan>';
  legend(a,1608,2447,70,[['βp','#0000ff',1],['β','#008000',1]],56);
  finishTime(a);
})();
// Np
(function(){
  const a=timePanel('proton-density-chart',2723,[0,30],'Proton Number Density');
  series(a,times,np,'#0000ff','series-np');
  yTicks(a,[0,5,10,15,20,25,30],['0','5','10','15','20','25','30']);
  ylabel(a,'Np(#/cc)',62);
  finishTime(a);
})();
// Temperature
(function(){
  const a=timePanel('proton-temperature-chart',3006,[0,0.5],'Proton Temperature and ');
  const tt=a.g.lastChild; tt.setAttribute('x',(a.x0+a.x1)/2-30);
  const tsp=mk('tspan',{'font-style':'italic','font-family':'Liberation Serif, serif'},tt);tsp.innerHTML='T<tspan font-size="15" dy="5">e</tspan><tspan dy="-5">/T</tspan><tspan font-size="15" dy="5">p</tspan>';
  series(a,times,tp,'#0000ff','series-tp');
  const sr=lin(0,5,a.y1,a.y0);
  const p=mk('path',{d:pathD(times,teTp,a.sx,sr),fill:'none',stroke:'#ff0000','stroke-width':2.2},a.g);
  
  
  yTicks(a,[0,0.1,0.2,0.3,0.4,0.5],['0.0','0.1','0.2','0.3','0.4','0.5'],{noRight:true});
  [0,1,2,3,4,5].forEach(v=>{const y=sr(v);
    const tk=mk('line',{x1:a.x1-8,x2:a.x1,y1:y,y2:y,stroke:'#000','stroke-width':1.2},a.g);
    
    
    const l=txt(String(v),a.x1+8,y+7,19,'start',a.g,{fill:'#ff0000'});
    
    });
  const yl=ylabel(a,'',50);
  yl.innerHTML='Tp(10<tspan font-size="11" dy="-6">6</tspan><tspan dy="6">K)</tspan>';
  const ry=(a.y0+a.y1)/2;
  const rl=mk('text',{x:1735,y:ry,'font-size':19,'text-anchor':'middle',fill:'#ff0000','font-style':'italic','font-family':'Liberation Serif, serif',transform:'rotate(-90 1735 '+ry+')'},a.g);
  
  
  rl.innerHTML='T<tspan font-size="13" dy="4">e</tspan><tspan dy="-4">/T</tspan><tspan font-size="13" dy="4">p</tspan>';
  legend(a,125,3013,72,[['Tp','#0000ff']],28);
  legend(a,1588,3013,90,[['Te/Tp','#ff0000',1]],28);
  finishTime(a);
})();
</script>
</body></html>
